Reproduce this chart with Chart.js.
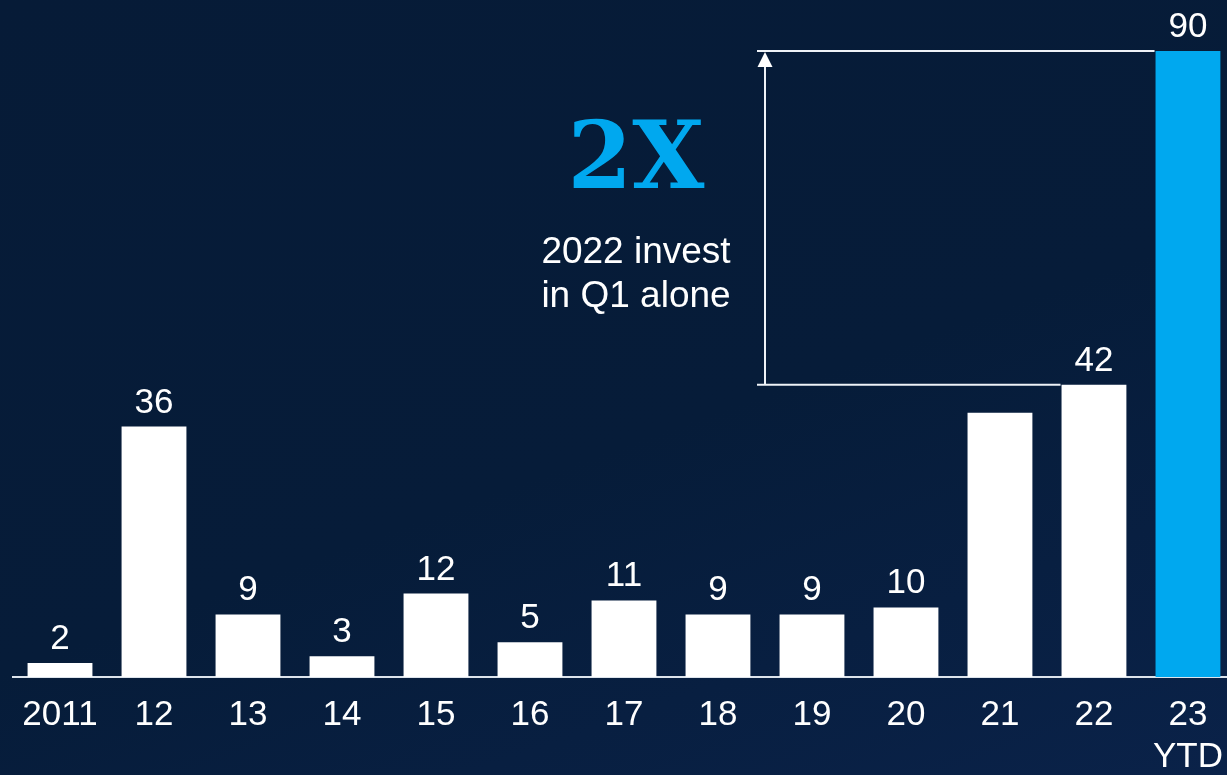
<!DOCTYPE html>
<html>
<head>
<meta charset="utf-8">
<script src="https://cdn.jsdelivr.net/npm/chart.js@4/dist/chart.umd.min.js"></script>
<style>
  html, body { margin:0; padding:0; width:1227px; height:775px; overflow:hidden;
    background: linear-gradient(160deg, #061b37 0%, #061c39 55%, #0a2249 100%); }
  #wrap { position:absolute; left:0; top:0; width:1240px; height:775px; }
</style>
</head>
<body>
<div id="wrap"><canvas id="c" width="1240" height="775"></canvas></div>
<script>
const categories = ["2011", "12", "13", "14", "15", "16", "17", "18", "19", "20", "21", "22", ["23", "YTD"]];
const values = [2, 36, 9, 3, 12, 5, 11, 9, 9, 10, 38, 42, 90];
const valueLabels = ["2", "36", "9", "3", "12", "5", "11", "9", "9", "10", null, "42", "90"];
const barColors = ["#ffffff","#ffffff","#ffffff","#ffffff","#ffffff","#ffffff","#ffffff","#ffffff","#ffffff","#ffffff","#ffffff","#ffffff","#00a8ef"];
const headline = "2X";
const noteLines = ["2022 invest", "in Q1 alone"];

const FONT = "'Liberation Sans', Arial, sans-serif";

const overlay = {
  id: 'overlay',
  afterDatasetsDraw(chart) {
    const ctx = chart.ctx;
    const meta = chart.getDatasetMeta(0);
    const xs = chart.scales.x, ys = chart.scales.y;
    ctx.save();
    // value labels
    ctx.fillStyle = '#ffffff';
    ctx.font = '35px ' + FONT;
    ctx.textAlign = 'center';
    ctx.textBaseline = 'alphabetic';
    meta.data.forEach((bar, i) => {
      if (valueLabels[i] == null) return;
      ctx.fillText(valueLabels[i], bar.x, bar.y - 14);
    });
    // bracket
    const last = values.length - 1;
    const yTop = ys.getPixelForValue(values[last]);
    const yLow = ys.getPixelForValue(values[last - 1]);
    const ax = Math.round(xs.getPixelForValue(7.5));
    const x0 = ax - 8;
    const barTop = meta.data[last], barLow = meta.data[last - 1];
    ctx.strokeStyle = '#eef2f7';
    ctx.lineWidth = 2;
    ctx.beginPath();
    ctx.moveTo(x0, yTop); ctx.lineTo(barTop.x - barTop.width / 2 - 1, yTop);
    ctx.moveTo(x0, yLow); ctx.lineTo(barLow.x - barLow.width / 2 - 1, yLow);
    ctx.moveTo(ax, yLow); ctx.lineTo(ax, yTop + 12);
    ctx.stroke();
    ctx.fillStyle = '#ffffff';
    ctx.beginPath();
    ctx.moveTo(ax, yTop + 1);
    ctx.lineTo(ax - 7.5, yTop + 16);
    ctx.lineTo(ax + 7.5, yTop + 16);
    ctx.closePath();
    ctx.fill();
    // headline and note
    const tx = ax - 129;
    ctx.textAlign = 'center';
    ctx.fillStyle = '#00a8ef';
    ctx.font = 'bold 93px "DejaVu Serif", serif';
    ctx.fillText(headline, tx, 188);
    ctx.fillStyle = '#ffffff';
    ctx.font = '37px ' + FONT;
    ctx.fillText(noteLines[0], tx, 263);
    ctx.fillText(noteLines[1], tx, 307);
    ctx.restore();
  }
};

new Chart(document.getElementById('c'), {
  type: 'bar',
  data: {
    labels: categories,
    datasets: [{
      data: values,
      backgroundColor: barColors,
      borderWidth: 0,
      categoryPercentage: 1.0,
      barPercentage: 0.69
    }]
  },
  options: {
    responsive: false,
    animation: false,
    events: [],
    layout: { padding: { left: 13, right: 1, top: 51, bottom: 0 } },
    plugins: { legend: { display: false }, tooltip: { enabled: false } },
    scales: {
      x: {
        grid: { display: false, drawTicks: false },
        border: { display: true, color: '#dde4ec', width: 2 },
        ticks: { color: '#ffffff', padding: 17, maxRotation: 0, autoSkip: false,
          font: { family: FONT, size: 35, lineHeight: 1.2 } },
        afterFit: (s) => { s.height = 98; }
      },
      y: { display: false, min: 0, max: 90 }
    }
  },
  plugins: [overlay]
});
</script>
</body>
</html>
